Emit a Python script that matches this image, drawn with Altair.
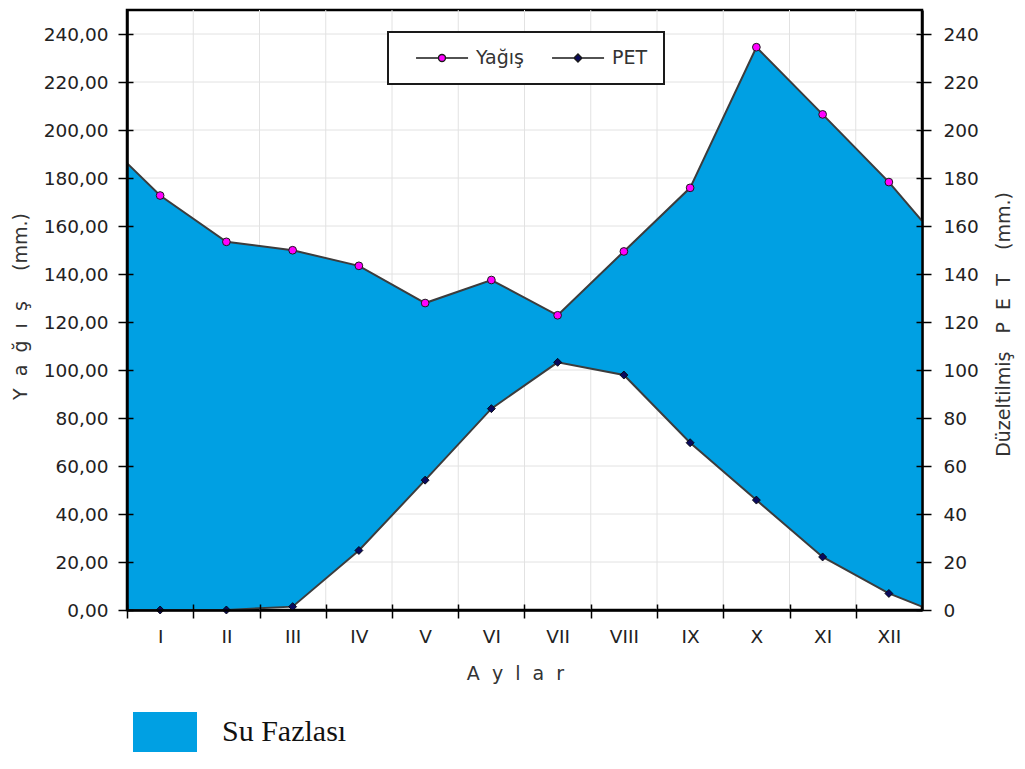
import altair as alt
import pandas as pd

# ---------------- data ----------------
months = ["I", "II", "III", "IV", "V", "VI", "VII", "VIII", "IX", "X", "XI", "XII"]
yagis = [172.7, 153.4, 149.9, 143.4, 127.9, 137.5, 122.8, 149.4, 175.9, 234.5, 206.5, 178.3]
pet = [0.0, 0.0, 1.4, 24.8, 54.1, 83.9, 103.2, 97.9, 69.7, 45.8, 22.1, 6.9]
# values where the two curves meet the left / right frame of the plot
yagis_edges = [186.2, 162.1]
pet_edges = [0.0, 1.4]
y_ticks = [0, 20, 40, 60, 80, 100, 120, 140, 160, 180, 200, 220, 240]
series_names = ["Yağış", "PET"]
series_fill = ["#ff00ff", "#0a0a5c"]
series_stroke = ["#1a1a1a", "#1a1a1a"]
area_label = ["Su Fazlası"]
area_color = ["#00a0e3"]

month_pos = list(range(1, len(months) + 1))
edge_pos = [0.5, len(months) + 0.5]
band_edges = [p + 0.5 for p in month_pos[:-1]]

xs = [edge_pos[0]] + month_pos + [edge_pos[1]]
area_df = pd.DataFrame({
    "x": xs,
    "yagis": [yagis_edges[0]] + yagis + [yagis_edges[1]],
    "pet": [pet_edges[0]] + pet + [pet_edges[1]],
    "kind": area_label * len(xs),
})
line_df = pd.concat([
    pd.DataFrame({"x": xs, "value": area_df["yagis"], "series": series_names[0]}),
    pd.DataFrame({"x": xs, "value": area_df["pet"], "series": series_names[1]}),
])
yagis_df = pd.DataFrame({"x": month_pos, "value": yagis})
pet_df = pd.DataFrame({"x": month_pos, "value": pet})
hgrid_df = pd.DataFrame({"y": y_ticks[1:]})
vgrid_df = pd.DataFrame({"x": band_edges})
leg_df = pd.DataFrame({"series": series_names})

NB = "\u00a0"
FONT = "DejaVu Sans"
W, H = 795, 600
band = W / len(months)
INNER = 6

xscale = alt.Scale(domain=edge_pos, nice=False, zero=False)
yscale = alt.Scale(domain=[0, 250], nice=False, zero=False)

month_js = "[" + ",".join("'" + m + "'" for m in months) + "]"
x_axis = alt.Axis(
    orient="bottom", values=month_pos, labelExpr=month_js + "[round(datum.value)-1]",
    tickOffset=-band / 2, labelOffset=band / 2, tickSize=8, tickWidth=1.5, tickColor="black",
    domainColor="black", domainWidth=2.5, grid=False, zindex=2,
    labelFont=FONT, labelFontSize=18.5, labelColor="#222", labelPadding=9, labelAngle=0,
    labelFlush=False, labelOverlap=False,
    title=(NB * 2).join("Aylar"), titleFont=FONT, titleFontSize=19, titleFontWeight="normal",
    titleColor="#333", titleX=388, titleY=63, titleBaseline="middle", titleAlign="center",
)
# inward half of the crossing ticks
x_inner = alt.Axis(
    orient="bottom", values=month_pos, tickOffset=-band / 2, offset=-INNER, tickSize=INNER,
    tickWidth=1.5, tickColor="black", domain=False, labels=False, grid=False, title=None, zindex=2,
)


def X(axis=None):
    return alt.X("x:Q", scale=xscale, axis=axis)


left_axis = alt.Axis(
    orient="left", values=y_ticks, labelExpr="replace(format(datum.value, '.2f'), '.', ',')",
    tickSize=9, tickWidth=1.5, tickColor="black", domainColor="black", domainWidth=2.5,
    grid=False, zindex=2, labelFont=FONT, labelFontSize=18.5, labelColor="#222", labelPadding=10,
    title=(NB * 2).join("Yağış") + NB * 5 + "(mm.)", titleFont=FONT, titleFontSize=19,
    titleFontWeight="normal", titleColor="#333", titleAngle=270, titleX=-107, titleY=296,
    titleAlign="center", titleBaseline="middle",
)
right_axis = alt.Axis(
    orient="right", values=y_ticks, format="d",
    tickSize=9, tickWidth=1.5, tickColor="black", domainColor="black", domainWidth=2.5,
    grid=False, zindex=2, labelFont=FONT, labelFontSize=18.5, labelColor="#222", labelPadding=12,
    title="Düzeltilmiş" + NB * 3 + (NB * 2).join("PET") + NB * 4 + "(mm.)", titleFont=FONT,
    titleFontSize=19, titleFontWeight="normal", titleColor="#333", titleAngle=270,
    titleX=81, titleY=314, titleAlign="center", titleBaseline="middle",
)


def y_inner(orient):
    return alt.Axis(orient=orient, values=y_ticks, offset=-INNER, tickSize=INNER, tickWidth=1.5,
                    tickColor="black", domain=False, labels=False, grid=False, title=None,
                    zindex=2)


GRID = "#e2e2e2"
hgrid = alt.Chart(hgrid_df).mark_rule(color=GRID, strokeWidth=1).encode(
    y=alt.Y("y:Q", scale=yscale, axis=y_inner("left")))
vgrid = alt.Chart(vgrid_df).mark_rule(color=GRID, strokeWidth=1).encode(x=X(x_inner))

area = alt.Chart(area_df).mark_area(opacity=1).encode(
    x=X(x_axis),
    y=alt.Y("pet:Q", scale=yscale, axis=left_axis),
    y2="yagis:Q",
    color=alt.Color("kind:N", scale=alt.Scale(domain=area_label, range=area_color),
                    legend=alt.Legend(
                        title=None, orient="none", legendX=6, legendY=702,
                        symbolType="M-1,-0.625H1V0.625H-1Z", symbolSize=4096, clipHeight=40,
                        symbolStrokeWidth=0, symbolOpacity=1, padding=0,
                        labelFont="Liberation Serif", labelFontSize=30, labelColor="#111",
                        labelOffset=25)),
)

lines = alt.Chart(line_df).mark_line(color="#3c3c3c", strokeWidth=2).encode(
    x=X(),
    y=alt.Y("value:Q", scale=yscale, axis=right_axis),
    detail="series:N",
)

pts_y = alt.Chart(yagis_df).mark_point(
    shape="circle", filled=True, fill=series_fill[0], stroke="#1a1a1a", strokeWidth=1,
    size=60, opacity=1).encode(x=X(), y=alt.Y("value:Q", scale=yscale, axis=y_inner("right")))
pts_p = alt.Chart(pet_df).mark_point(
    shape="diamond", filled=True, fill=series_fill[1], stroke="#000000", strokeWidth=0.8,
    size=64, opacity=1).encode(x=X(), y=alt.Y("value:Q", scale=yscale, axis=None))

legend_paths = [
    "M-0.66,0H0.03M0.246,0H0.94M0.246,0A0.108,0.108,0,1,1,0.03,0A0.108,0.108,0,1,1,0.246,0Z",
    "M-0.66,0H0.015M0.261,0H0.94M0.138,-0.123L0.261,0L0.138,0.123L0.015,0Z",
]
main_legend = alt.Legend(
    title=None, orient="none", legendX=261, legendY=22, direction="horizontal",
    fillColor="white", strokeColor="#1a1a1a", padding=16, symbolSize=4225, clipHeight=20,
    symbolStrokeColor="#1a1a1a", symbolStrokeWidth=1.4, symbolOpacity=1,
    labelFont=FONT, labelFontSize=19, labelColor="#333", labelOffset=5, columnPadding=16,
)
legend_layer = alt.Chart(leg_df).mark_point(
    filled=True, opacity=1, strokeWidth=1.4).encode(
    fill=alt.Fill("series:N", scale=alt.Scale(domain=series_names, range=series_fill),
                  legend=main_legend),
    stroke=alt.Stroke("series:N", scale=alt.Scale(domain=series_names, range=series_stroke),
                      legend=main_legend),
    shape=alt.Shape("series:N", scale=alt.Scale(domain=series_names, range=legend_paths),
                    legend=main_legend),
).transform_filter("false")

chart = alt.layer(hgrid, vgrid, area, lines, pts_y, pts_p, legend_layer).resolve_axis(
    x="independent", y="independent"
).properties(
    width=W, height=H,
    autosize=alt.AutoSizeParams(type="none"),
    padding={"left": 119, "top": 2, "right": 94, "bottom": 143},
    background="white",
).configure_view(stroke="black", strokeWidth=2.5).configure_legend(strokeWidth=2)

chart.save("out.html", embed_options={"renderer": "svg", "actions": False})
